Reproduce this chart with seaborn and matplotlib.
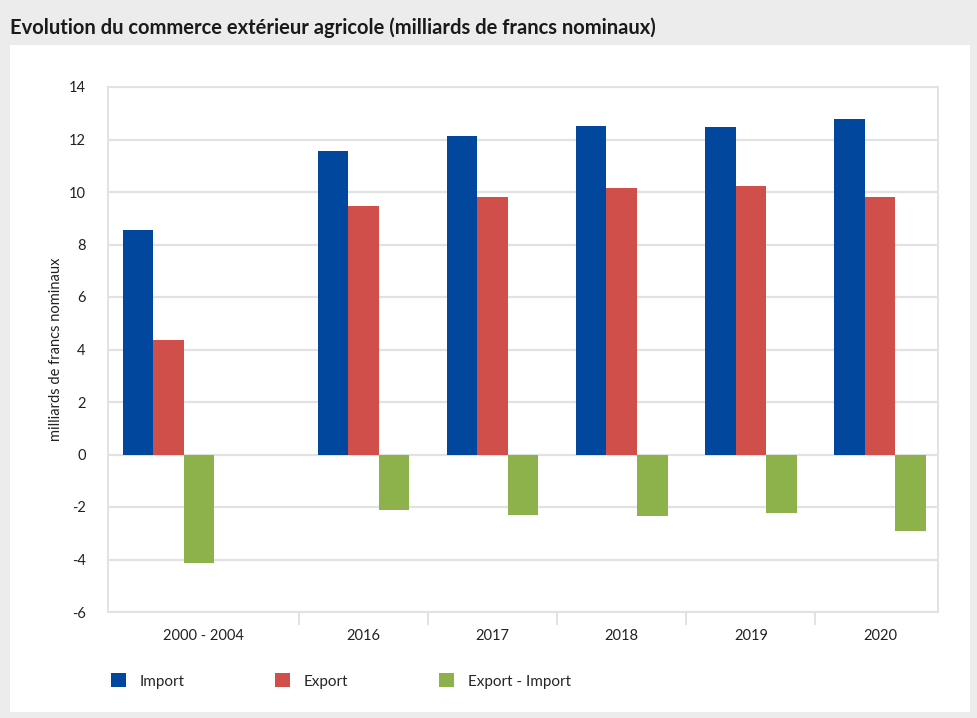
import pandas as pd
import seaborn as sns
import matplotlib.pyplot as plt
from matplotlib.patches import Rectangle
from matplotlib.ticker import FixedLocator

# =========================
#  Data (milliards de francs nominaux)
# =========================
periods = ["2000 - 2004", "2016", "2017", "2018", "2019", "2020"]
imports = [8.55, 11.58, 12.13, 12.53, 12.47, 12.77]
exports = [4.35, 9.47, 9.82, 10.17, 10.22, 9.82]
balance = [-4.15, -2.10, -2.29, -2.34, -2.24, -2.93]

series = ["Import", "Export", "Export - Import"]
colors = ["#00479d", "#d14f4a", "#8db24b"]

# x positions: the first period sits in a wider slot
x_pos = [-0.51, 1, 2, 3, 4, 5]
label_pos = [-0.24, 1, 2, 3, 4, 5]
separators = [0.5, 1.5, 2.5, 3.5, 4.5]

df = pd.DataFrame({
    "period": periods,
    "pos": x_pos,
    "Import": imports,
    "Export": exports,
    "Export - Import": balance,
})
long = df.melt(id_vars=["period", "pos"], value_vars=series,
               var_name="serie", value_name="valeur")

# =========================
#  Figure
# =========================
sns.set_theme(style="whitegrid")
plt.rcParams["font.family"] = ["Lato", "DejaVu Sans"]
plt.rcParams["axes.unicode_minus"] = False

fig = plt.figure(figsize=(9.77, 7.18), dpi=100, facecolor="#ececec")
# white panel behind the chart
fig.patches.append(Rectangle((10 / 977, 1 - 712 / 718), 960 / 977, 667 / 718,
                             transform=fig.transFigure, facecolor="white",
                             edgecolor="none", zorder=-10))
fig.text(10 / 977, 1 - 28 / 718,
         "Evolution du commerce extérieur agricole (milliards de francs nominaux)",
         fontsize=14.5, fontweight="bold", color="#1a1a1a", va="center", ha="left")

ax = fig.add_axes([108 / 977, 1 - 612 / 718, 830 / 977, 525 / 718])
ax.set_zorder(5)
sns.barplot(
    data=long, x="pos", y="valeur", hue="serie", hue_order=series,
    palette=colors, native_scale=True, width=0.71, saturation=1,
    errorbar=None, linewidth=0, ax=ax,
)

ax.set_xlim(-0.98, 5.45)
ax.set_ylim(-6, 14)
ax.set_yticks(range(-6, 15, 2))
ax.set_xticks(label_pos, periods)
ax.xaxis.set_minor_locator(FixedLocator(separators))
ax.tick_params(axis="x", which="major", length=0, pad=12, labelsize=10.5, labelcolor="#222222")
ax.tick_params(axis="x", which="minor", length=9, width=1.2, color="#dddddd", bottom=True, direction="out")
ax.tick_params(axis="y", length=0, pad=16, labelsize=10.5, labelcolor="#222222")
ax.grid(axis="x", visible=False)
ax.grid(axis="y", color="#e2e2e2", linewidth=1.6)
ax.set_axisbelow(True)
for sp in ax.spines.values():
    sp.set_color("#e2e2e2")
    sp.set_linewidth(1.4)

ax.set_xlabel("")
ax.set_ylabel("milliards de francs nominaux", fontsize=10.5, color="#222222", labelpad=4)

# legend moved below the plot, in one row
handles, labels = ax.get_legend_handles_labels()
ax.get_legend().remove()
fig.legend(
    handles, labels,
    loc="center left",
    bbox_to_anchor=(97 / 977, 1 - 681 / 718),
    ncol=3,
    frameon=False,
    fontsize=11,
    handlelength=1.0,
    handleheight=1.0,
    handletextpad=0.9,
    columnspacing=5.9,
)

fig.savefig("out.png", dpi=100, facecolor=fig.get_facecolor())
